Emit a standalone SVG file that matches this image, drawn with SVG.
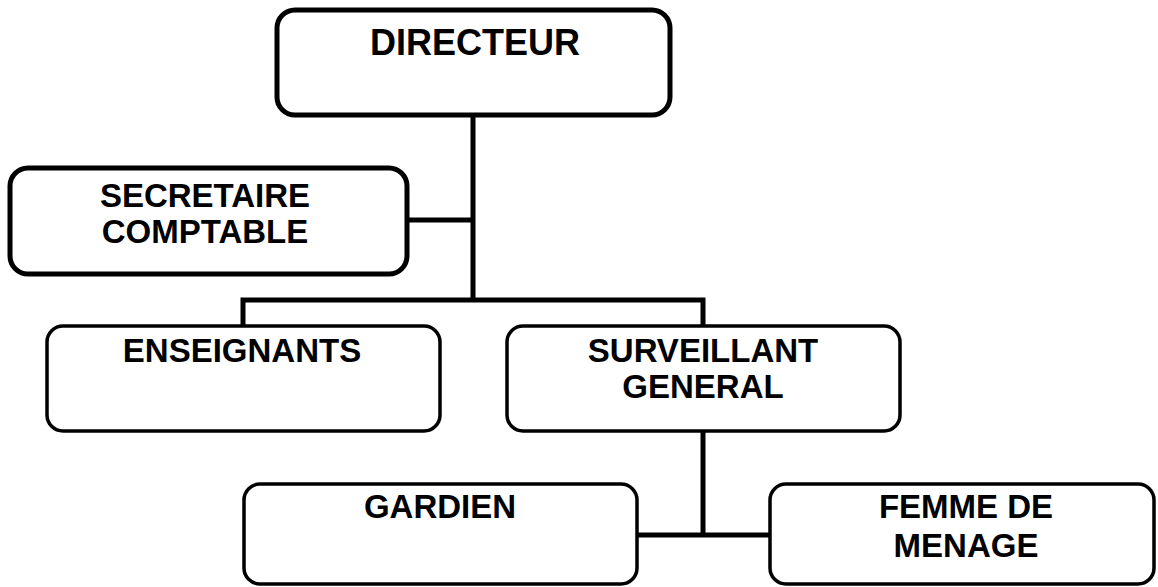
<svg xmlns="http://www.w3.org/2000/svg" width="1158" height="587" viewBox="0 0 1158 587">
<style>
.box{fill:#fff;stroke:#000;stroke-width:3.5}
.thick{stroke-width:5}
.t{font-family:"Liberation Sans",Arial,sans-serif;font-weight:bold;font-size:33px;fill:#000;text-anchor:middle}
.conn{fill:none;stroke:#000;stroke-width:5}
</style>
<rect width="1158" height="587" fill="#fff"/>
<g id="connectors">
<path class="conn" d="M473 115V300"/>
<path class="conn" d="M408 220H473"/>
<path class="conn" d="M243 326V300H703V326"/>
<path class="conn" d="M703 431V535"/>
<path class="conn" d="M638 535H769"/>
</g>
<g id="directeur">
<rect class="box thick" x="277" y="10" width="393" height="105" rx="18"/>
<text class="t" x="475" y="55" style="font-size:36px">DIRECTEUR</text>
</g>
<g id="secretaire">
<rect class="box thick" x="10" y="168" width="397" height="106" rx="18"/>
<text class="t" x="205" y="207">SECRETAIRE</text>
<text class="t" x="205" y="243">COMPTABLE</text>
</g>
<g id="enseignants">
<rect class="box" x="47" y="326" width="393" height="105" rx="16"/>
<text class="t" x="242" y="362">ENSEIGNANTS</text>
</g>
<g id="surveillant">
<rect class="box" x="507" y="326" width="393" height="105" rx="16"/>
<text class="t" x="703" y="362">SURVEILLANT</text>
<text class="t" x="703" y="398">GENERAL</text>
</g>
<g id="gardien">
<rect class="box" x="244" y="484" width="393" height="100" rx="16"/>
<text class="t" x="440" y="518">GARDIEN</text>
</g>
<g id="femme">
<rect class="box" x="770" y="484" width="384" height="100" rx="16"/>
<text class="t" x="966" y="518">FEMME DE</text>
<text class="t" x="966" y="557">MENAGE</text>
</g>
</svg>
